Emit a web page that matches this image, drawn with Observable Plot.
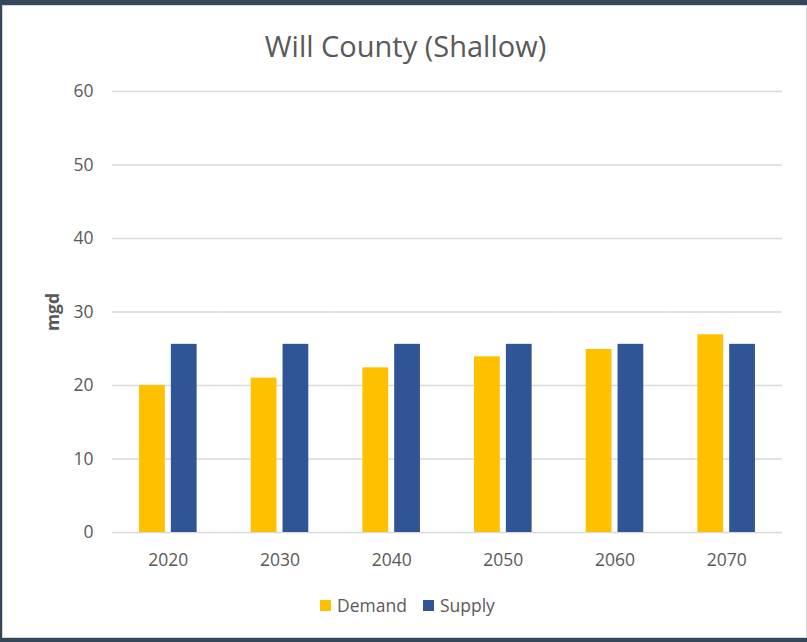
<!DOCTYPE html>
<html>
<head>
<meta charset="utf-8">
<script src="https://cdn.jsdelivr.net/npm/d3@7"></script>
<script src="https://cdn.jsdelivr.net/npm/@observablehq/plot@0.6"></script>
<style>
  html, body { margin: 0; padding: 0; }
  body { width: 807px; height: 642px; background: #33475b; position: relative; overflow: hidden; font-family: "Open Sans", sans-serif; }
  #panel { position: absolute; left: 2px; top: 5px; width: 805px; height: 633px; background: #fff; border: 1px solid #d6d6d6; box-sizing: border-box; }
  #title { position: absolute; left: 0; top: 29px; width: 811px; text-align: center; font-size: 29px; color: #595959; line-height: 34px; }
  #chart { position: absolute; left: 0; top: 70px; }
  #ylabel { position: absolute; left: 52px; top: 312px; transform: translate(-50%, -50%) rotate(-90deg); font-size: 17.5px; font-weight: bold; color: #595959; white-space: nowrap; }
  #legend { position: absolute; left: 320px; top: 594px; display: flex; align-items: center; font-size: 17.5px; color: #595959; line-height: 22px; }
  .sw { width: 11px; height: 11px; display: inline-block; margin-right: 6px; }
  .item { display: flex; align-items: center; margin-right: 16px; }
</style>
</head>
<body>
<div id="panel"></div>
<div id="title">Will County (Shallow)</div>
<div id="chart"></div>
<div id="ylabel">mgd</div>
<div id="legend"></div>
<script>
const years = ["2020", "2030", "2040", "2050", "2060", "2070"];
const seriesNames = ["Demand", "Supply"];
const demand = [20.0, 21.0, 22.4, 23.9, 24.9, 26.9];
const supply = [25.6, 25.6, 25.6, 25.6, 25.6, 25.6];
const colors = ["#FFC000", "#2F5597"];
const yTicks = [0, 10, 20, 30, 40, 50, 60];

const data = years.flatMap((yr, i) => [
  {year: yr, series: "Demand", value: demand[i]},
  {year: yr, series: "Supply", value: supply[i]}
]);

const chart = Plot.plot({
  width: 807,
  height: 502,
  marginLeft: 112,
  marginRight: 25,
  marginTop: 21,
  marginBottom: 40,
  style: {fontFamily: "Open Sans", fontSize: "17.5px", color: "#595959", background: "transparent", overflow: "visible"},
  fx: {domain: years, padding: 0, round: false, label: null, tickSize: 0, tickPadding: 21, axis: "bottom"},
  x: {domain: seriesNames, paddingInner: 0.19, paddingOuter: 0.85, round: false, axis: null},
  y: {domain: [0, 60], ticks: yTicks, label: null, tickSize: 0, tickPadding: 19},
  color: {domain: seriesNames, range: colors},
  marks: [
    Plot.ruleY(yTicks, {stroke: "#d9d9d9", strokeWidth: 1.5}),
    Plot.barY(data, {fx: "year", x: "series", y: "value", fill: "series"})
  ]
});
document.getElementById("chart").appendChild(chart);

const legend = document.getElementById("legend");
seriesNames.forEach((s, i) => {
  const item = document.createElement("div");
  item.className = "item";
  const sw = document.createElement("span");
  sw.className = "sw";
  sw.style.background = colors[i];
  item.appendChild(sw);
  item.appendChild(document.createTextNode(s));
  legend.appendChild(item);
});
</script>
</body>
</html>
